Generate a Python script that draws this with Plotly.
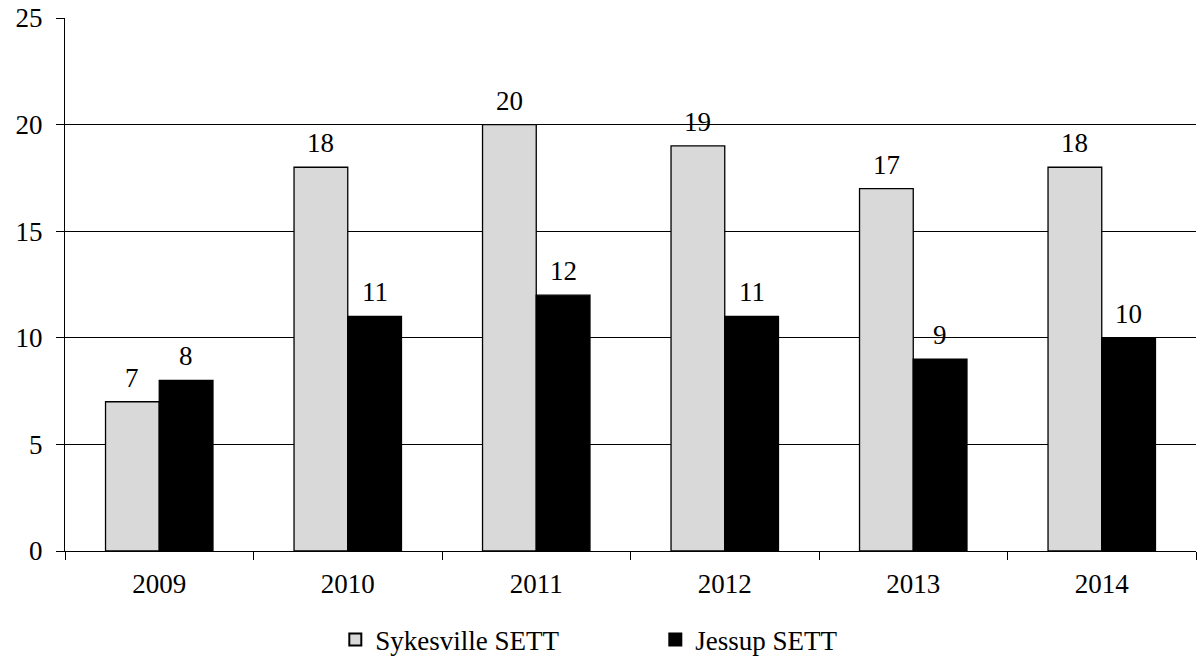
import plotly.graph_objects as go

years = ["2009", "2010", "2011", "2012", "2013", "2014"]
sykesville = [7, 18, 20, 19, 17, 18]
jessup = [8, 11, 12, 11, 9, 10]
series_names = ["Sykesville SETT", "Jessup SETT"]
y_ticks = [0, 5, 10, 15, 20, 25]

font_family = "Times New Roman, Liberation Serif, DejaVu Serif, serif"
fs = 27
bargap = 0.43
bar_w = (1 - bargap) / 2  # width of each bar in category units

fig = go.Figure()
fig.add_trace(go.Bar(
    x=years, y=sykesville, name=series_names[0],
    marker=dict(color="#d9d9d9", line=dict(color="black", width=1.3)),
))
fig.add_trace(go.Bar(
    x=years, y=jessup, name=series_names[1],
    marker=dict(color="black", line=dict(color="black", width=1.3)),
))

annotations = []
for series, sign in ((sykesville, -1), (jessup, 1)):
    for i, v in enumerate(series):
        annotations.append(dict(
            x=i + sign * bar_w / 2, y=v, xref="x", yref="y",
            text=str(v), showarrow=False, yanchor="bottom", yshift=7,
            font=dict(family=font_family, size=fs, color="black"),
        ))

fig.update_layout(
    width=1201, height=660,
    margin=dict(l=65, r=5, t=18, b=109, autoexpand=False),
    paper_bgcolor="white", plot_bgcolor="white",
    barmode="group", bargap=bargap, bargroupgap=0,
    font=dict(family=font_family, size=fs, color="black"),
    annotations=annotations,
    showlegend=True,
    legend=dict(
        orientation="h", x=0.239, xanchor="left", y=-0.167, yanchor="middle",
        font=dict(family=font_family, size=fs, color="black"),
        entrywidth=275, entrywidthmode="pixels",
        itemsizing="constant", itemwidth=30,
    ),
    xaxis=dict(
        showline=True, linecolor="black", linewidth=1.3, automargin=False,
        ticks="outside", tickson="boundaries", ticklen=8, tickcolor="black", tickwidth=1.3,
        showgrid=False, tickfont=dict(family=font_family, size=fs), ticklabelstandoff=8,
    ),
    yaxis=dict(
        range=[0, 25], tickvals=y_ticks, automargin=False,
        showline=True, linecolor="black", linewidth=1.3,
        ticks="outside", ticklen=8, tickcolor="black", tickwidth=1.3,
        showgrid=True, gridcolor="black", gridwidth=1.3,
        zeroline=False, tickfont=dict(family=font_family, size=fs), ticklabelstandoff=8,
    ),
)

fig.write_html("out.html")
